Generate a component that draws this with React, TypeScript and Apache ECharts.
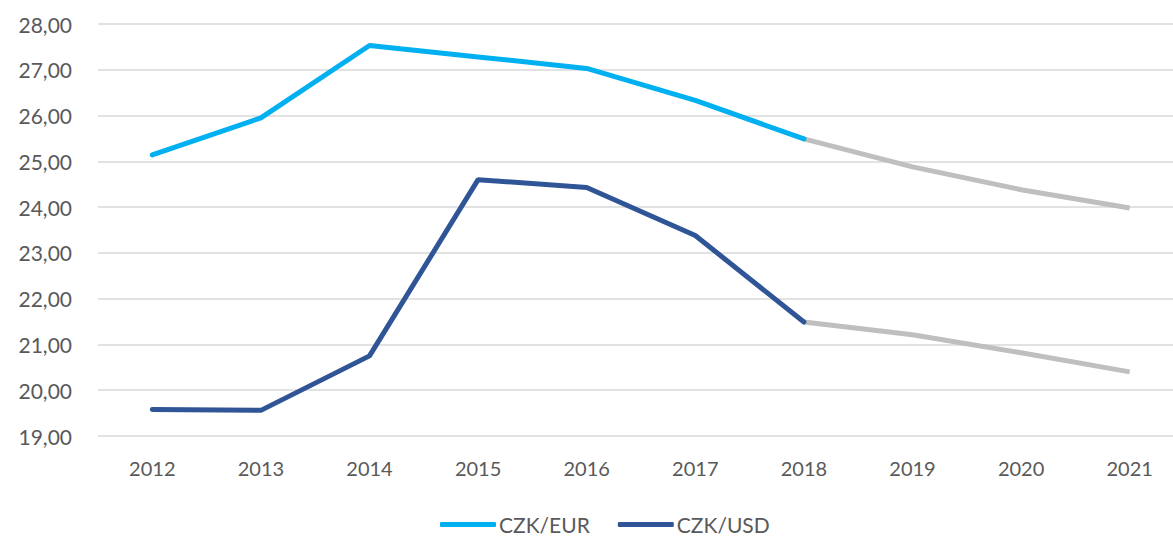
import React, { useEffect, useRef } from "react";
import * as echarts from "echarts";

const years = ["2012", "2013", "2014", "2015", "2016", "2017", "2018", "2019", "2020", "2021"];
const czkEur = [25.14, 25.95, 27.53, 27.28, 27.03, 26.33, 25.49, 24.88, 24.38, 23.98];
const czkUsd = [19.58, 19.56, 20.75, 24.60, 24.43, 23.38, 21.49, 21.21, 20.82, 20.40];
const forecastStart = 6; // index of 2018

const actual = (arr: number[]) => arr.map((v, i) => (i <= forecastStart ? v : null));
const forecast = (arr: number[]) => arr.map((v, i) => (i >= forecastStart ? v : null));

const FONT = "Lato, 'Open Sans', sans-serif";

export default function App() {
  const ref = useRef<HTMLDivElement>(null);
  useEffect(() => {
    if (!ref.current) return;
    const chart = echarts.init(ref.current, undefined, { renderer: "svg" });
    const lineBase = {
      type: "line" as const,
      showSymbol: false,
      symbol: "none",
      smooth: false,
      connectNulls: false,
    };
    chart.setOption({
      animation: false,
      textStyle: { fontFamily: FONT },
      grid: { left: 98, right: 6, top: 24, bottom: 101, containLabel: false },
      legend: {
        left: 435,
        top: 509,
        icon: "roundRect",
        itemWidth: 56,
        itemHeight: 5,
        itemGap: 28,
        data: ["CZK/EUR", "CZK/USD"],
        textStyle: { color: "#595959", fontSize: 21, fontFamily: FONT, padding: [0, 0, 0, -2] },
      },
      xAxis: {
        type: "category",
        data: years,
        boundaryGap: true,
        axisLine: { show: false },
        axisTick: { show: false },
        axisLabel: { color: "#595959", fontSize: 20, margin: 22, fontFamily: FONT },
      },
      yAxis: {
        type: "value",
        min: 19,
        max: 28,
        interval: 1,
        axisLine: { show: false },
        axisTick: { show: false },
        splitLine: { lineStyle: { color: "#d9d9d9", width: 1.5 } },
        axisLabel: {
          color: "#595959",
          fontSize: 21,
          margin: 26,
          fontFamily: FONT,
          formatter: (v: number) => v.toFixed(2).replace(".", ","),
        },
      },
      series: [
        {
          ...lineBase,
          name: "CZK/EUR",
          data: actual(czkEur),
          color: "#00B0F0",
          lineStyle: { color: "#00B0F0", width: 5, cap: "round" },
          z: 3,
        },
        {
          ...lineBase,
          name: "CZK/USD",
          data: actual(czkUsd),
          color: "#2F5597",
          lineStyle: { color: "#2F5597", width: 5, cap: "round" },
          z: 3,
        },
        {
          ...lineBase,
          name: "CZK/EUR forecast",
          data: forecast(czkEur),
          lineStyle: { color: "#BFBFBF", width: 5 },
          z: 2,
        },
        {
          ...lineBase,
          name: "CZK/USD forecast",
          data: forecast(czkUsd),
          lineStyle: { color: "#BFBFBF", width: 5 },
          z: 2,
        },
      ],
    });
    return () => chart.dispose();
  }, []);
  return (
    <div style={{ width: 1173, height: 537, position: "absolute", left: 0, top: 0, overflow: "hidden" }}>
      <div ref={ref} style={{ width: 1190, height: 537 }} />
    </div>
  );
}
